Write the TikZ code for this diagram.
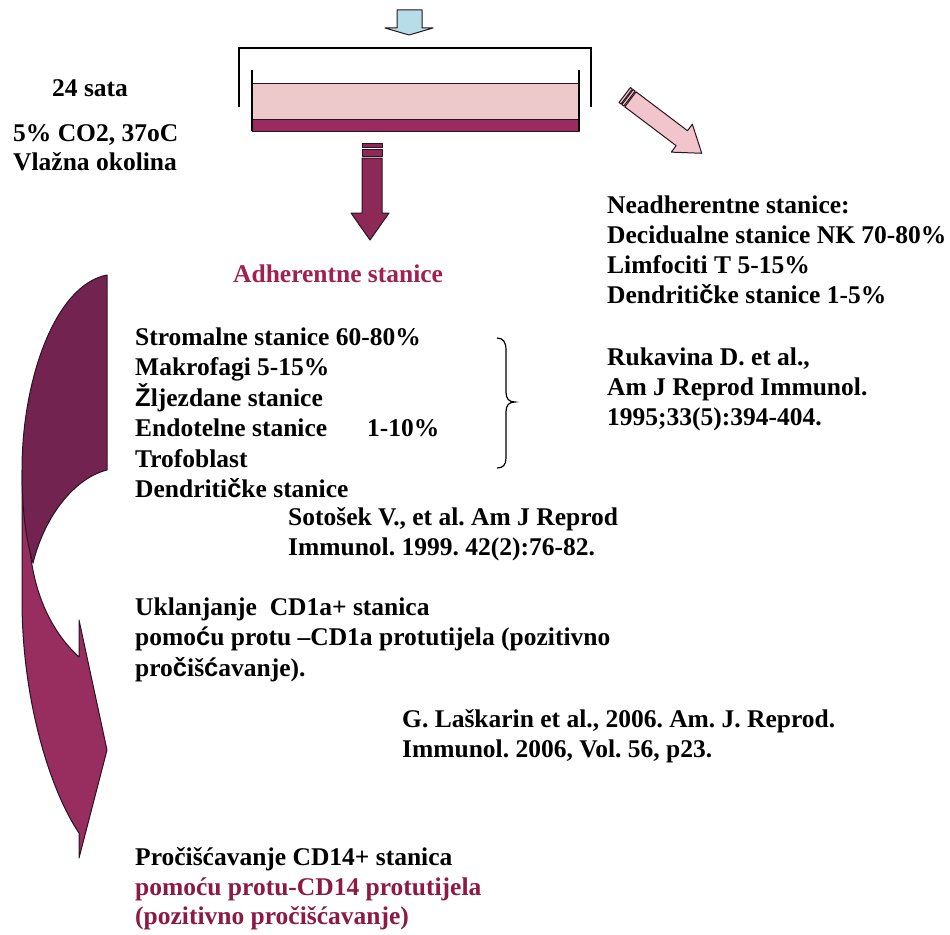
\documentclass[tikz,border=0pt]{standalone}
\usepackage{fontspec}
\setmainfont{Liberation Serif}
\newfontfamily\sansb{Liberation Sans}
\newcommand{\sg}[1]{{\sansb\bfseries #1}}
\definecolor{arrdark}{HTML}{732350}
\definecolor{arrlight}{HTML}{982D60}
\definecolor{dishmaroon}{HTML}{9B2B5F}
\definecolor{dishpink}{HTML}{EDC9CC}
\definecolor{bluearr}{HTML}{B7DEE8}
\definecolor{pinkarr}{HTML}{F2C4CB}
\definecolor{midarr}{HTML}{8E2957}
\definecolor{adhcol}{HTML}{A0214F}
\definecolor{pinktext}{HTML}{8B1A45}
\definecolor{edge}{HTML}{2A1420}
\begin{document}
\frenchspacing
\begin{tikzpicture}[x=1pt,y=-1pt,
  txt/.style={anchor=base west, inner sep=0pt, font=\fontsize{25.5}{30.5}\selectfont\bfseries\frenchspacing},
  shapeline/.style={draw=edge, line width=1pt, line join=round},
  plainline/.style={draw=black, line width=1.5pt}]
\fill[white] (0,0) rectangle (950,934);
\useasboundingbox (0,0) rectangle (950,934);

% small blue arrow at top
\path[shapeline, fill=bluearr] (397,10) -- (422,10) -- (422,28) -- (433,28) -- (409,35) -- (385,28) -- (397,28) -- cycle;

% bracket and dish
\draw[plainline] (239,107) -- (239,48) -- (591,48) -- (591,107);
\fill[dishpink] (252,83) rectangle (579,119);
\path[shapeline, fill=dishmaroon] (252,119) rectangle (579,131);
\draw[edge, line width=1pt] (252,83) -- (579,83);
\draw[plainline, line width=1.2pt] (252,70) -- (252,131);
\draw[plainline, line width=1.2pt] (579,70) -- (579,131);

% middle maroon down arrow
\path[shapeline, fill=midarr] (362,143) rectangle (382,147);
\path[shapeline, fill=midarr] (362,149) rectangle (382,156);
\path[shapeline, fill=midarr] (362,158) -- (382,158) -- (382,213) -- (389,213) -- (370,240) -- (351,213) -- (362,213) -- cycle;

% pink diagonal arrow
\begin{scope}[shift={(624.7,95)}, rotate=-37.1]
  \path[shapeline, fill=pinkarr] (0,-9.4) rectangle (2.5,9.4);
  \path[shapeline, fill=pinkarr] (3.5,-9.4) rectangle (6,9.4);
  \path[shapeline, fill=pinkarr] (7.2,-9.4) -- (71.6,-9.4) -- (71.6,-17.5) -- (96.6,0) -- (71.6,17.5) -- (71.6,9.4) -- (7.2,9.4) -- cycle;
\end{scope}

% curved arrow, front (light) band
\path[shapeline, fill=arrlight] (22,470) -- (22,600) .. controls (22,700) and (50,790) .. (79,833)
  -- (79,858) -- (107,750) -- (79,620) -- (79,657)
  .. controls (55,635) and (35,600) .. (30,550) -- (28,470) -- cycle;
% curved arrow, back (dark) band
\path[shapeline, fill=arrdark] (107,275) -- (107,470) .. controls (75,478) and (45,515) .. (33,563)
  .. controls (26,540) and (22,510) .. (22,470) .. controls (22,380) and (55,285) .. (107,275) -- cycle;

% brace
\draw[black, line width=1.2pt] (497,338) .. controls (503,338) and (506,342) .. (506,350) -- (506,392)
  .. controls (506,399) and (509,402) .. (515,402) .. controls (509,402) and (506,405) .. (506,412)
  -- (506,458) .. controls (506,465) and (503,468) .. (497,468);

% texts, top left
\node[txt] (t1) at (52,96) {24 sata};
\node[txt] (t2) at (13,141) {5\% CO2, 37oC};
\node[txt] (t3) at (13,170) {Vlažna okolina};

% adherent
\node[txt, text=adhcol] (adh) at (233,282) {Adherentne stanice};
\node[txt] (a1) at (135,345) {Stromalne stanice 60-80\%};
\node[txt] (a2) at (135,375.5) {Makrofagi 5-15\%};
\node[txt] (a3) at (135,406) {\sg{Ž}ljezdane stanice};
\node[txt] (a4) at (135,436.5) {Endotelne stanice\hspace{40pt}1-10\%};
\node[txt] (a5) at (135,467) {Trofoblast};
\node[txt] (a6) at (135,497.5) {Dendriti\sg{č}ke stanice};

\node[txt] (s1) at (288,525) {Sotošek V., et al. Am J Reprod};
\node[txt] (s2) at (288,555) {Immunol. 1999. 42(2):76-82.};

\node[txt] (u1) at (135,615) {Uklanjanje \ CD1a+ stanica};
\node[txt] (u2) at (135,645) {pomo\sg{ć}u protu –CD1a protutijela (pozitivno};
\node[txt] (u3) at (135,676) {pro\sg{č}iš\sg{ć}avanje).};

\node[txt] (l1) at (402,727) {G. Laškarin et al., 2006. Am. J. Reprod.};
\node[txt] (l2) at (402,757) {Immunol. 2006, Vol. 56, p23.};

\node[txt] (p1) at (135,865) {Pročišćavanje CD14+ stanica};
\node[txt, text=pinktext] (p2) at (135,895) {pomoću protu-CD14 protutijela};
\node[txt, text=pinktext] (p3) at (135,924) {(pozitivno pročišćavanje)};

% right column
\node[txt] (n1) at (607,213) {Neadherentne stanice:};
\node[txt] (n2) at (607,243) {Decidualne stanice NK 70-80\%};
\node[txt] (n3) at (607,273) {Limfociti T 5-15\%};
\node[txt] (n4) at (607,303) {Dendriti\sg{č}ke stanice 1-5\%};
\node[txt] (r1) at (607,365) {Rukavina D. et al.,};
\node[txt] (r2) at (607,395) {Am J Reprod Immunol.};
\node[txt] (r3) at (607,425) {1995;33(5):394-404.};
\end{tikzpicture}
\end{document}
